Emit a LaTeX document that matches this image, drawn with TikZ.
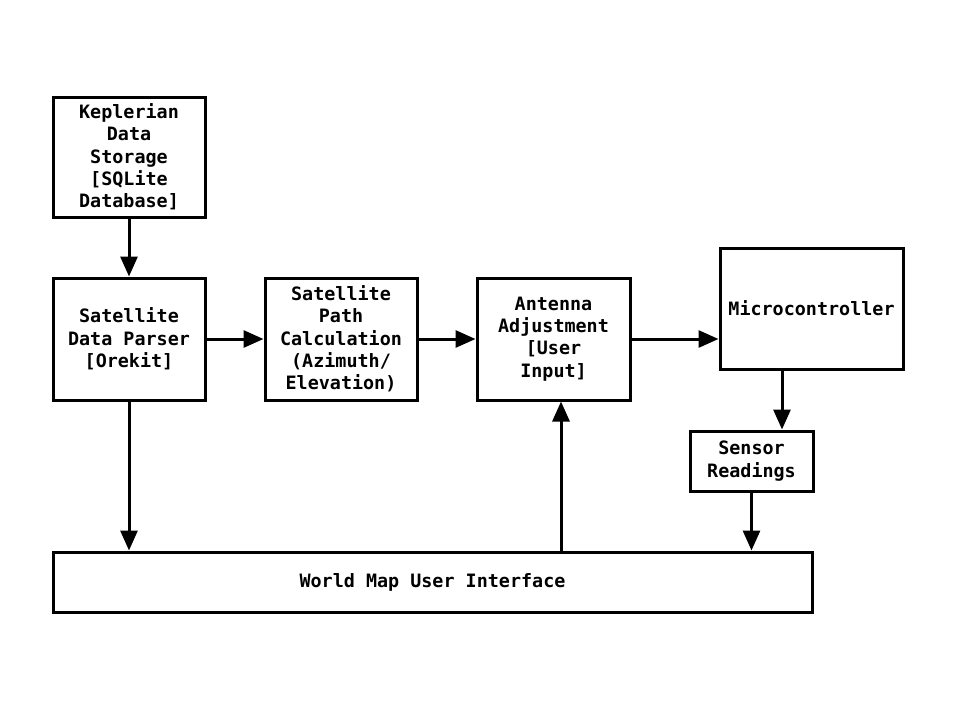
\documentclass[tikz,border=0pt]{standalone}
\usepackage{fontspec}
\setmonofont{DejaVu Sans Mono}
\usetikzlibrary{arrows.meta}
\begin{document}
\begin{tikzpicture}[x=1pt,y=-1pt,
    blk/.style={draw,line width=3pt,align=center,inner sep=0pt,
        font=\ttfamily\bfseries\fontsize{18.4}{22.3}\selectfont},
    arr/.style={line width=3pt,-{Triangle[length=20pt,width=17pt]}}
]
    \useasboundingbox (0,0) rectangle (960,720);

    \node[blk,minimum width=152pt,minimum height=120pt] (kep) at (129,157)
        {Keplerian\\Data\\Storage\\{[}SQLite\\Database]};
    \node[blk,minimum width=152pt,minimum height=122pt] (pars) at (129,339)
        {Satellite\\Data Parser\\{[}Orekit]};
    \node[blk,minimum width=152pt,minimum height=122pt] (calc) at (341,339)
        {Satellite\\Path\\Calculation\\(Azimuth/\\Elevation)};
    \node[blk,minimum width=153pt,minimum height=122pt] (ant) at (553.5,339)
        {Antenna\\Adjustment\\{[}User\\Input]};
    \node[blk,minimum width=183pt,minimum height=121pt] (mcu) at (811.5,308.5)
        {Microcontroller};
    \node[blk,minimum width=123pt,minimum height=60pt] (sens) at (751.5,461)
        {Sensor\\Readings};
    \node[blk,minimum width=759pt,minimum height=60pt] (map) at (432.5,582)
        {World Map User Interface};

    \draw[arr] (kep) -- (pars);
    \draw[arr] (pars) -- (calc);
    \draw[arr] (calc) -- (ant);
    \draw[arr] (ant.east) -- (ant.east -| mcu.west);
    \draw[arr] ([xshift=30.5pt]sens.north |- mcu.south) -- ([xshift=30.5pt]sens.north);
    \draw[arr] (sens.south) -- (sens.south |- map.north);
    \draw[arr] (pars.south) -- (pars.south |- map.north);
    \draw[arr] ([xshift=7.5pt]ant.south |- map.north) -- ([xshift=7.5pt]ant.south);
\end{tikzpicture}
\end{document}
